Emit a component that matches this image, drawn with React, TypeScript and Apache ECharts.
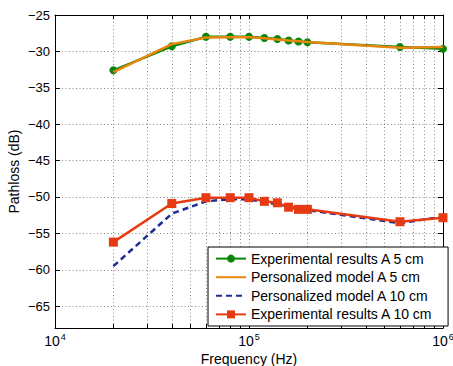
import React, { useEffect, useRef } from 'react';
import * as echarts from 'echarts';

const frequencies = [2e4, 4e4, 6e4, 8e4, 1e5, 1.2e5, 1.4e5, 1.6e5, 1.8e5, 2e5, 6e5, 1e6];
const expA5 = [-32.6, -29.3, -28.0, -28.0, -28.0, -28.15, -28.3, -28.5, -28.65, -28.75, -29.4, -29.65];
const modelA5 = [-32.85, -29.0, -28.1, -28.05, -28.05, -28.2, -28.35, -28.5, -28.6, -28.7, -29.5, -29.4];
const modelA10 = [-59.5, -52.3, -50.6, -50.3, -50.35, -50.7, -51.0, -51.3, -51.6, -51.8, -53.6, -52.7];
const expA10 = [-56.2, -50.9, -50.1, -50.1, -50.1, -50.6, -50.8, -51.4, -51.7, -51.7, -53.4, -52.85];

const seriesNames = [
  'Experimental results A 5 cm',
  'Personalized model A 5 cm',
  'Personalized model A 10 cm',
  'Experimental results A 10 cm',
];

const xLabelTicks = [1e4, 1e5, 1e6];
const xAllTicks = [
  1e4, 2e4, 3e4, 4e4, 5e4, 6e4, 7e4, 8e4, 9e4,
  1e5, 2e5, 3e5, 4e5, 5e5, 6e5, 7e5, 8e5, 9e5, 1e6,
];
const yTicks = [-65, -60, -55, -50, -45, -40, -35, -30, -25];

const FONT = '"Liberation Sans", Arial, Helvetica, sans-serif';

export default function App() {
  const ref = useRef<HTMLDivElement>(null);
  useEffect(() => {
    if (!ref.current) return;
    const chart = echarts.init(ref.current, null, { renderer: 'svg' });
    const toPts = (arr: number[]) => frequencies.map((f, i) => [f, arr[i]]);
    const gridLine = { show: true, lineStyle: { color: '#888', width: 1, type: [1, 2.5] } };
    const xBase = {
      type: 'log',
      logBase: 10,
      min: 1e4,
      max: 1e6,
      gridIndex: 0,
      axisLine: { show: true, onZero: false, lineStyle: { color: '#000', width: 1 } },
      axisTick: { show: true, inside: true, length: 4, customValues: xAllTicks, lineStyle: { color: '#000' } },
      minorTick: { show: false },
    };
    const yBase = {
      type: 'value',
      min: -68,
      max: -25,
      axisLine: { show: true, onZero: false, lineStyle: { color: '#000', width: 1 } },
      axisTick: { show: true, inside: true, length: 5, customValues: yTicks, lineStyle: { color: '#000' } },
    };
    const hiddenSymbol = { itemStyle: { opacity: 0 } };
    chart.setOption({
      animation: false,
      backgroundColor: '#fff',
      textStyle: { fontFamily: FONT },
      grid: { left: 55, top: 15, right: 10, bottom: 38, containLabel: false, outerBoundsMode: 'none' },
      legend: {
        data: [
          { name: seriesNames[0] },
          { name: seriesNames[1], ...hiddenSymbol },
          { name: seriesNames[2], ...hiddenSymbol },
          { name: seriesNames[3] },
        ],
        orient: 'vertical',
        left: 208,
        top: 247,
        itemWidth: 30,
        itemHeight: 10,
        itemGap: 4.6,
        padding: [4.6, 15, 4.6, 7],
        borderColor: '#000',
        borderWidth: 1,
        borderRadius: 0,
        backgroundColor: '#fff',
        textStyle: { fontSize: 14, color: '#000', fontFamily: FONT },
      },
      xAxis: [
        {
          ...xBase,
          position: 'bottom',
          name: 'Frequency (Hz)',
          nameLocation: 'middle',
          nameGap: 24,
          nameMoveOverlap: false,
          nameTextStyle: { fontSize: 14, color: '#000', fontFamily: FONT },
          splitLine: gridLine,
          axisLabel: {
            show: true,
            customValues: xLabelTicks,
            margin: 4.5,
            color: '#000',
            fontFamily: FONT,
            fontSize: 14,
            formatter: (v: number) => `{b|10}{sup|${Math.round(Math.log10(v))}}`,
            rich: {
              b: { fontSize: 14, lineHeight: 14, padding: [3, 0, 0, 0], color: '#000', fontFamily: FONT },
              sup: { fontSize: 9, lineHeight: 10, verticalAlign: 'top', padding: [0, 0, 0, 1], color: '#000', fontFamily: FONT },
            },
          },
        },
        {
          ...xBase,
          position: 'top',
          splitLine: { show: false },
          axisLabel: { show: false },
        },
      ],
      yAxis: [
        {
          ...yBase,
          position: 'left',
          name: 'Pathloss (dB)',
          nameLocation: 'middle',
          nameGap: 34,
          nameMoveOverlap: false,
          nameTextStyle: { fontSize: 14, color: '#000', fontFamily: FONT },
          splitLine: gridLine,
          axisLabel: {
            show: true,
            customValues: yTicks,
            margin: 5,
            fontSize: 13,
            padding: [4, 0, 0, 0],
            color: '#000',
            fontFamily: FONT,
            formatter: (v: number) => String(v).replace('-', '\u2212'),
          },
        },
        {
          ...yBase,
          position: 'right',
          splitLine: { show: false },
          axisLabel: { show: false },
        },
      ],
      series: [
        {
          name: seriesNames[0],
          type: 'line',
          data: toPts(expA5),
          color: '#0a850a',
          symbol: 'circle',
          symbolSize: 8,
          showSymbol: true,
          lineStyle: { width: 2.5, color: '#0a850a' },
          itemStyle: { color: '#0a850a' },
          z: 2,
        },
        {
          name: seriesNames[1],
          type: 'line',
          data: toPts(modelA5),
          color: '#e8870f',
          symbol: 'none',
          lineStyle: { width: 2.5, color: '#e8870f' },
          itemStyle: { color: '#e8870f' },
          z: 3,
        },
        {
          name: seriesNames[2],
          type: 'line',
          data: toPts(modelA10),
          color: '#1c2c94',
          symbol: 'none',
          lineStyle: { width: 2.5, color: '#1c2c94', type: [6, 4] },
          itemStyle: { color: '#1c2c94' },
          z: 4,
        },
        {
          name: seriesNames[3],
          type: 'line',
          data: toPts(expA10),
          color: '#e63a12',
          symbol: 'rect',
          symbolSize: 9,
          lineStyle: { width: 2.5, color: '#e63a12' },
          itemStyle: { color: '#e63a12' },
          z: 5,
        },
      ],
    });
    return () => chart.dispose();
  }, []);
  return <div ref={ref} style={{ width: 453, height: 366, position: 'absolute', left: 0, top: 0 }} />;
}
